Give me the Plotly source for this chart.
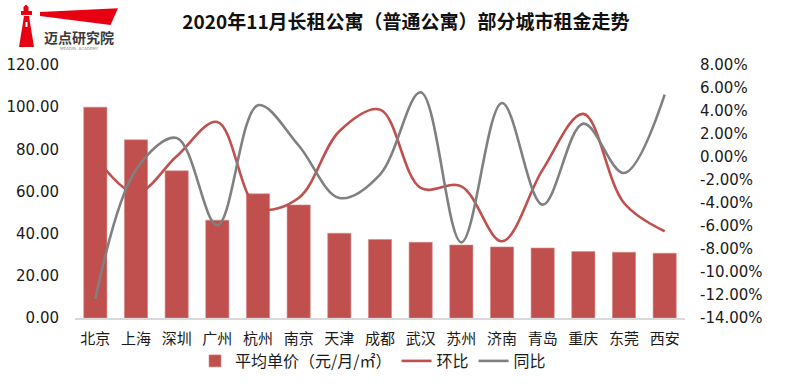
import plotly.graph_objects as go

cities = ["北京", "上海", "深圳", "广州", "杭州", "南京", "天津", "成都",
          "武汉", "苏州", "济南", "青岛", "重庆", "东莞", "西安"]
avg_price = [100.0, 84.5, 69.8, 46.4, 58.9, 53.6, 40.2, 37.2,
             35.9, 34.6, 33.7, 33.2, 31.5, 31.2, 30.7]
mom = [0.0005, -0.0312, 0.0006, 0.0305, -0.0443, -0.0356, 0.0224, 0.0412,
       -0.0269, -0.0255, -0.0733, -0.0110, 0.0375, -0.0400, -0.0646]
yoy = [-0.1235, -0.0110, 0.0166, -0.0594, 0.0450, 0.0100, -0.0356, -0.0153,
       0.0563, -0.0742, 0.0470, -0.0414, 0.0290, -0.0139, 0.0543]

left_ticks = [0, 20, 40, 60, 80, 100, 120]
left_labels = ["0.00", "20.00", "40.00", "60.00", "80.00", "100.00", "120.00"]
right_ticks = [-0.14, -0.12, -0.10, -0.08, -0.06, -0.04, -0.02, 0.0,
               0.02, 0.04, 0.06, 0.08]
right_labels = ["-14.00%", "-12.00%", "-10.00%", "-8.00%", "-6.00%", "-4.00%",
                "-2.00%", "0.00%", "2.00%", "4.00%", "6.00%", "8.00%"]

W, H = 800, 384
L, R, T, B = 75, 115, 65, 66
PW, PH = W - L - R, H - T - B


def px(x):
    return (x - L) / PW


def py(y):
    return (H - B - y) / PH


def path(points):
    s = "M " + " L ".join(f"{px(x):.5f},{py(y):.5f}" for x, y in points)
    return s + " Z"


font_main = "DejaVu Sans, Noto Sans CJK SC, sans-serif"
font_cjk = "Noto Sans CJK SC, DejaVu Sans, sans-serif"

fig = go.Figure()
fig.add_trace(go.Bar(
    x=cities, y=avg_price, name="平均单价（元/月/㎡）",
    marker=dict(color="#C0504D", line=dict(color="#D48A88", width=0.6)),
))
fig.add_trace(go.Scatter(
    x=cities, y=mom, name="环比", yaxis="y2", mode="lines",
    line=dict(color="#C0504D", width=2.6, shape="spline", smoothing=1.0),
))
fig.add_trace(go.Scatter(
    x=cities, y=yoy, name="同比", yaxis="y2", mode="lines",
    line=dict(color="#808080", width=2.6, shape="spline", smoothing=1.0),
))

red = "#E60012"
shapes = [
    dict(type="path", xref="paper", yref="paper", line=dict(width=0), fillcolor=red,
         path=path([(40, 12), (118, 8.3), (110.5, 25), (40, 16)])),
    dict(type="path", xref="paper", yref="paper", line=dict(width=0), fillcolor=red,
         path=path([(24, 16), (29, 16), (34, 47), (19, 47)])),
    dict(type="path", xref="paper", yref="paper", line=dict(width=0), fillcolor=red,
         path=path([(21, 11), (32, 11), (32, 15), (21, 15)])),
    dict(type="path", xref="paper", yref="paper", line=dict(width=0), fillcolor=red,
         path=path([(23.5, 11), (23.5, 7), (26, 4.5), (28.5, 7), (28.5, 11)])),
    dict(type="path", xref="paper", yref="paper", line=dict(width=0), fillcolor="white",
         path=path([(25.5, 22), (27.5, 22), (27.5, 27), (25.5, 27)])),
]

annotations = [
    dict(text="<b>迈点研究院</b>", x=px(79), y=py(36.5), xref="paper", yref="paper",
         showarrow=False, xanchor="center", yanchor="middle",
         font=dict(family=font_cjk, size=14, color="#3A3A3A")),
    dict(text="MEADIN  ACADEMY", x=px(79), y=py(49), xref="paper", yref="paper",
         showarrow=False, xanchor="center", yanchor="middle",
         font=dict(family=font_main, size=4, color="#8A8A8A")),
]

fig.update_layout(
    width=W, height=H,
    margin=dict(l=L, r=R, t=T, b=B, pad=0, autoexpand=False),
    paper_bgcolor="white", plot_bgcolor="white",
    font=dict(family=font_main, size=15, color="#1A1A1A"),
    title=dict(text="<b>2020年11月长租公寓（普通公寓）部分城市租金走势</b>",
               x=406 / W, xanchor="center", y=1 - 22 / H, yanchor="middle",
               xref="container", yref="container",
               font=dict(family=font_cjk, size=19, color="#111111")),
    bargap=0.43,
    showlegend=True,
    legend=dict(orientation="h", x=px(373), y=py(361), xanchor="center", yanchor="middle",
                font=dict(family=font_cjk, size=16, color="#1A1A1A"),
                bgcolor="rgba(0,0,0,0)", itemwidth=30, tracegroupgap=0),
    xaxis=dict(showline=True, linecolor="#D9D9D9", linewidth=1.5, showgrid=False,
               automargin=False,
               ticks="outside", ticklen=6, tickcolor="rgba(0,0,0,0)",
               tickfont=dict(family=font_cjk, size=15, color="#1A1A1A")),
    yaxis=dict(range=[0, 120], tickvals=left_ticks, ticktext=left_labels,
               showgrid=False, zeroline=False, showline=False, automargin=False,
               ticks="outside", ticklen=12, tickcolor="rgba(0,0,0,0)",
               tickfont=dict(family=font_main, size=15, color="#1A1A1A")),
    yaxis2=dict(range=[-0.14, 0.08], tickvals=right_ticks, ticktext=right_labels,
                overlaying="y", side="right", showgrid=False, zeroline=False,
                showline=False, automargin=False, ticks="outside", ticklen=11,
                tickcolor="rgba(0,0,0,0)",
                tickfont=dict(family=font_main, size=15, color="#1A1A1A")),
    shapes=shapes,
    annotations=annotations,
)

fig.write_html("out.html", config={"displayModeBar": False},
               post_script="document.body.style.margin='0';document.body.style.padding='0';")
